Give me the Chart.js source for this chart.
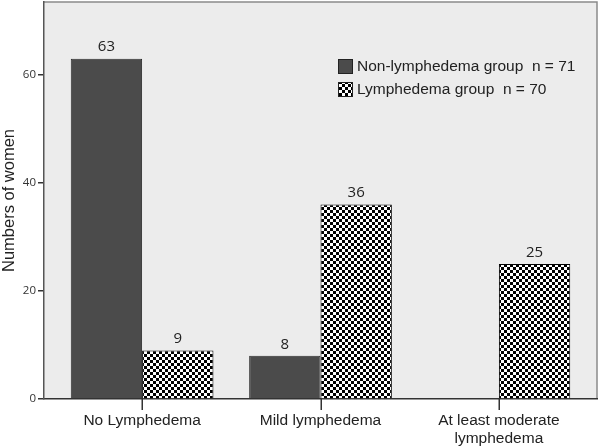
<!DOCTYPE html>
<html>
<head>
<meta charset="utf-8">
<script src="https://cdn.jsdelivr.net/npm/chart.js@4/dist/chart.umd.min.js"></script>
<style>
  html, body { margin: 0; padding: 0; background: #fff; }
  #wrap { width: 600px; height: 447px; position: relative; }
</style>
</head>
<body>
<div id="wrap"><canvas id="myChart"></canvas></div>
<script>
/* data */
const categories = ['No Lymphedema', 'Mild lymphedema', ['At least moderate', 'lymphedema']];
const nonLymphedema = [63, 8, null];
const lymphedema = [9, 36, 25];
const seriesNames = ['Non-lymphedema group  n = 71', 'Lymphedema group  n = 70'];
const yTicks = [0, 20, 40, 60];

// checkerboard fill like the SPSS pattern
function checker() {
	const c = document.createElement('canvas');
	c.width = 6;
	c.height = 6;
	const g = c.getContext('2d');
	g.fillStyle = '#fff';
	g.fillRect(0, 0, 6, 6);
	g.fillStyle = '#000';
	g.fillRect(0, 0, 3, 3);
	g.fillRect(3, 3, 3, 3);
	return g.createPattern(c, 'repeat');
}
const checkFill = checker();
const darkFill = '#4b4b4b';

/* plot frame + background, category tick marks */
const framePlugin = {
	id: 'frame',
	beforeDraw(chart) {
		const { ctx, chartArea: a } = chart;
		ctx.save();
		ctx.fillStyle = '#ececec';
		ctx.fillRect(a.left, a.top, a.right - a.left, a.bottom - a.top);
		ctx.strokeStyle = '#8a8a8a';
		ctx.lineWidth = 1.5;
		ctx.beginPath();
		ctx.moveTo(a.left, a.top);
		ctx.lineTo(a.right, a.top);
		ctx.lineTo(a.right, a.bottom);
		ctx.stroke();
		ctx.restore();
	},
	afterDraw(chart) {
		const { ctx, chartArea: a } = chart;
		const xs = chart.scales.x;
		ctx.save();
		ctx.fillStyle = '#333';
		categories.forEach((c, i) => {
			const px = Math.round(xs.getPixelForValue(i));
			ctx.fillRect(px - 0.5, a.bottom, 1.5, 11);
		});
		ctx.restore();
	}
};

/* value labels above bars + legend inside plot */
const labelPlugin = {
	id: 'labels',
	afterDatasetsDraw(chart) {
		const ctx = chart.ctx;
		ctx.save();
		ctx.fillStyle = '#222';
		ctx.font = '15px "Open Sans"';
		ctx.textAlign = 'center';
		ctx.textBaseline = 'bottom';
		chart.data.datasets.forEach((ds, i) => {
			chart.getDatasetMeta(i).data.forEach((bar, j) => {
				const v = ds.data[j].y;
				if (v === null) return;
				ctx.fillText(v, bar.x, bar.y - 4);
			});
		});

		// legend
		const a = chart.chartArea;
		const lx = a.left + 294;
		const ly = 59;
		const fills = [darkFill, checkFill];
		ctx.font = '15.5px "Liberation Sans", Arial';
		ctx.textAlign = 'left';
		ctx.textBaseline = 'middle';
		seriesNames.forEach((name, i) => {
			const y = ly + i * 23;
			ctx.fillStyle = fills[i];
			ctx.fillRect(lx, y, 15, 15);
			ctx.strokeStyle = '#222';
			ctx.lineWidth = 1;
			ctx.strokeRect(lx + 0.5, y + 0.5, 14, 14);
			ctx.fillStyle = '#222';
			ctx.fillText(name, lx + 19, y + 8);
		});
		ctx.restore();
	}
};

const ctx = document.getElementById('myChart');

new Chart(ctx, {
	type: 'bar',
	data: {
		datasets: [
			{
				label: seriesNames[0],
				data: nonLymphedema.map((v, i) => ({ x: i, y: v })),
				backgroundColor: darkFill,
				borderColor: '#2b2b2b',
				borderWidth: 1
			},
			{
				label: seriesNames[1],
				data: lymphedema.map((v, i) => ({ x: i, y: v })),
				backgroundColor: checkFill,
				borderColor: '#000',
				borderWidth: 1
			}
		]
	},
	options: {
		responsive: true,
		maintainAspectRatio: false,
		animation: false,
		categoryPercentage: 0.8,
		barPercentage: 1.0,
		layout: { padding: { top: 2, right: 3, left: 0, bottom: 0 } },
		plugins: {
			legend: { display: false },
			tooltip: { enabled: false }
		},
		scales: {
			x: {
				type: 'linear',
				min: -0.55,
				max: 2.55,
				offset: false,
				afterBuildTicks: (s) => { s.ticks = categories.map((c, i) => ({ value: i })); },
				afterFit: (s) => { s.height = 48; },
				ticks: {
					callback: (v) => categories[v],
					color: '#222',
					font: { family: '"Liberation Sans", Arial', size: 15.5 },
					padding: 2,
					maxRotation: 0,
					autoSkip: false
				},
				grid: { display: false, tickLength: 10 },
				border: { display: true, color: '#333', width: 1.5 }
			},
			y: {
				min: 0,
				max: 73.5,
				afterBuildTicks: (s) => { s.ticks = yTicks.map((v) => ({ value: v })); },
				afterFit: (s) => {
					s.width = 44;
					s.paddingTop = 0;
					s.paddingBottom = 0;
				},
				ticks: {
					color: '#333',
					font: { family: '"Open Sans"', size: 11.5 },
					padding: 2
				},
				grid: { drawOnChartArea: false, tickLength: 6, color: '#333', lineWidth: 1.5 },
				border: { display: true, color: '#555', width: 1.5 },
				title: {
					display: true,
					text: 'Numbers of women',
					color: '#222',
					font: { family: '"Liberation Sans", Arial', size: 16.5 },
					padding: 0
				}
			}
		}
	},
	plugins: [framePlugin, labelPlugin]
});
</script>
</body>
</html>
